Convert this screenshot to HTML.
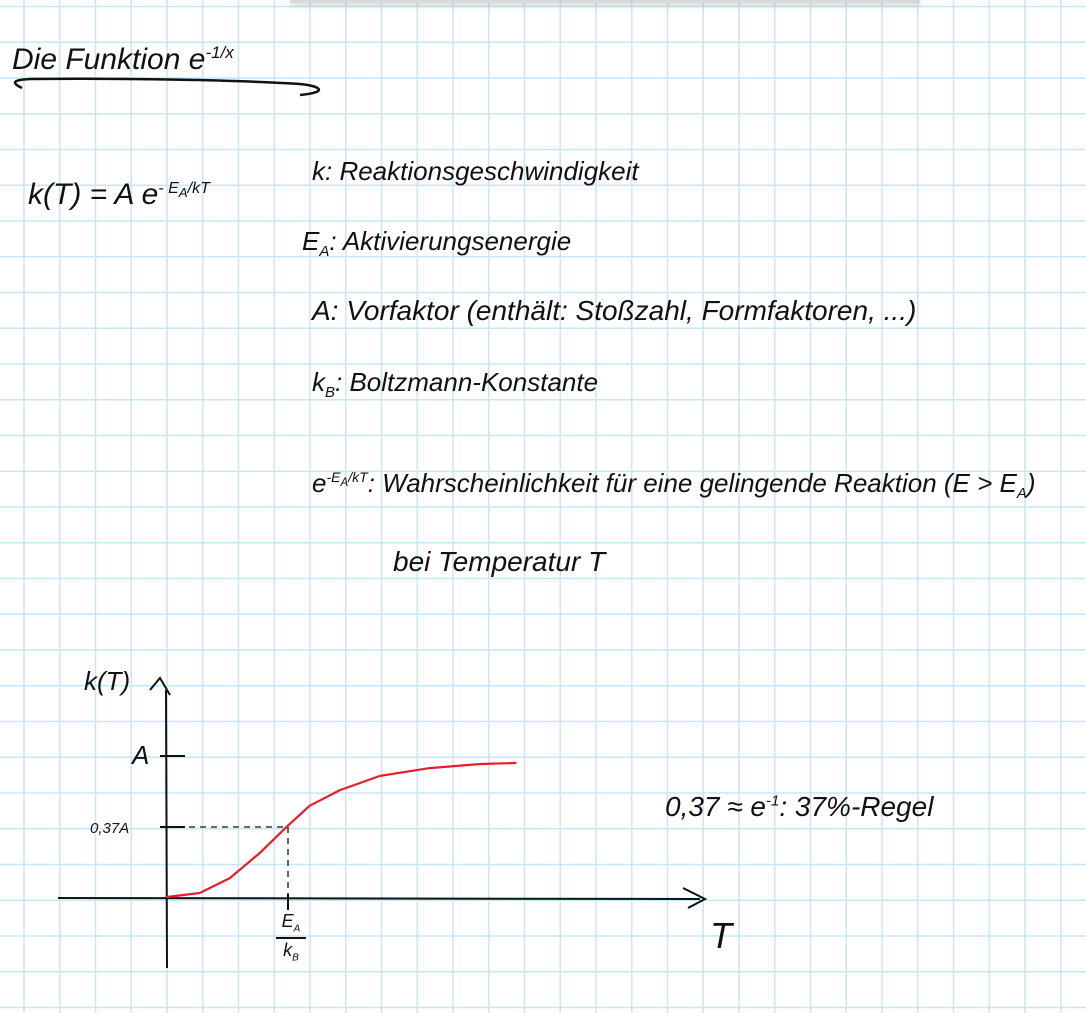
<!DOCTYPE html>
<html><head><meta charset="utf-8">
<style>
html,body{margin:0;padding:0;background:#fff;}
#page{position:relative;width:1086px;height:1013px;overflow:hidden;background:#fff;
 font-family:"Liberation Sans",sans-serif;font-style:italic;color:#111;}
.t{position:absolute;white-space:nowrap;line-height:1;}
svg{position:absolute;left:0;top:0;}
</style></head>
<body>
<div id="page">
<svg id="grid" width="1086" height="1013"></svg>
<div style="position:absolute;left:290px;top:0;width:630px;height:3px;background:#d8d8d8;box-shadow:0 2px 6px rgba(0,0,0,0.25);"></div>

<div class="t" style="left:12px;top:44px;font-size:30px;">Die Funktion e<sup style="font-size:17px;">-1/x</sup></div>
<svg width="1086" height="1013"><path d="M22 88 C10 82,14 80,30 79 C120 78,240 80,300 84 C320 86,330 92,300 95" stroke="#111" stroke-width="2.5" fill="none"/></svg>

<div class="t" style="left:28px;top:180px;font-size:30px;">k(T) = A e<sup style="font-size:16px;">- E<sub>A</sub>/kT</sup></div>
<div class="t" style="left:312px;top:158px;font-size:26px;">k: Reaktionsgeschwindigkeit</div>
<div class="t" style="left:302px;top:228px;font-size:26px;">E<sub style="font-size:15px;">A</sub>: Aktivierungsenergie</div>
<div class="t" style="left:312px;top:297px;font-size:28px;">A: Vorfaktor (enthält: Stoßzahl, Formfaktoren, ...)</div>
<div class="t" style="left:312px;top:369px;font-size:26px;">k<sub style="font-size:15px;">B</sub>: Boltzmann-Konstante</div>
<div class="t" style="left:312px;top:470px;font-size:26px;">e<sup style="font-size:14px;">-E<sub>A</sub>/kT</sup>: Wahrscheinlichkeit für eine gelingende Reaktion (E &gt; E<sub style="font-size:15px;">A</sub>)</div>
<div class="t" style="left:393px;top:548px;font-size:28px;">bei Temperatur T</div>
<div class="t" style="left:665px;top:793px;font-size:28px;">0,37 ≈ e<sup style="font-size:15px;">-1</sup>: 37%-Regel</div>

<svg id="chart" width="1086" height="1013"></svg>
<div class="t" style="left:84px;top:668px;font-size:26px;">k(T)</div>
<div class="t" style="left:710px;top:918px;font-size:36px;">T</div>
<div class="t" style="left:132px;top:742px;font-size:26px;">A</div>
<div class="t" style="left:90px;top:821px;font-size:15px;">0,37A</div>
<div class="t" style="left:276px;top:912px;font-size:18px;text-align:center;width:30px;">E<sub style="font-size:10px;">A</sub><div style="border-top:2px solid #111;margin:2px 0;"></div>k<sub style="font-size:10px;">B</sub></div>
</div>

<script>
(function(){
 const g=document.getElementById('grid');
 const ns='http://www.w3.org/2000/svg';
 const sp=35.75;
 for(let x=24-sp;x<1086;x+=sp){const l=document.createElementNS(ns,'line');
  l.setAttribute('x1',x);l.setAttribute('x2',x);l.setAttribute('y1',0);l.setAttribute('y2',1013);
  l.setAttribute('stroke','#c9e6f6');l.setAttribute('stroke-width','1.5');
  
  g.appendChild(l);}
 for(let y=6.5;y<1013;y+=sp){const l=document.createElementNS(ns,'line');
  l.setAttribute('x1',0);l.setAttribute('x2',1086);l.setAttribute('y1',y);l.setAttribute('y2',y);
  l.setAttribute('stroke','#c9e6f6');l.setAttribute('stroke-width','1.5');
  
  g.appendChild(l);}
})();

// chart data (T in units of E_A/k_B, k in units of A, as sketched)
const curveT=[0,0.27,0.52,0.77,1.0,1.18,1.43,1.76,2.17,2.59,2.88];
const curveK=[0.007,0.035,0.14,0.32,0.51,0.65,0.76,0.86,0.915,0.944,0.951];
const markerT=[1.0];
const markerK=[0.5];
const yTicks=[1,0.5];

const X0=167,XS=121,Y0=898,YS=142;
function sx(t){return X0+t*XS;}
function sy(k){return Y0-k*YS;}

(function(){
 const c=document.getElementById('chart');const ns='http://www.w3.org/2000/svg';
 function mk(tag,attrs,name){const e=document.createElementNS(ns,tag);for(const k in attrs)e.setAttribute(k,attrs[k]);
  
  
  c.appendChild(e);return e;}
 mk('path',{d:'M58 898 L700 899 M683 888 L705 899 L688 908',stroke:'#111','stroke-width':2,fill:'none'},'x-axis');
 mk('path',{d:'M167 968 L166 690 M150 690 L160 678 L170 695',stroke:'#111','stroke-width':2,fill:'none'},'y-axis');
 yTicks.forEach(v=>{mk('line',{x1:160,x2:185,y1:sy(v),y2:sy(v),stroke:'#111','stroke-width':2},'y-tick');});
 mk('line',{x1:sx(markerT[0]),x2:sx(markerT[0]),y1:sy(0)-4,y2:sy(0)+12,stroke:'#111','stroke-width':2},'x-tick');
 mk('path',{d:`M${X0} ${sy(markerK[0])} L${sx(markerT[0])} ${sy(markerK[0])} L${sx(markerT[0])} ${sy(0)}`,stroke:'#111','stroke-width':1.3,fill:'none','stroke-dasharray':'6 5'},'guide-dashed-lines');
 let d='';
 for(let i=0;i<curveT.length;i++){d+=(i?' L':'M')+sx(curveT[i]).toFixed(1)+' '+sy(curveK[i]).toFixed(1);}
 mk('path',{d:d,stroke:'#e41e2b','stroke-width':2.2,fill:'none','stroke-linejoin':'round','stroke-linecap':'round'},'rate-curve');
})();
</script>
</body></html>
